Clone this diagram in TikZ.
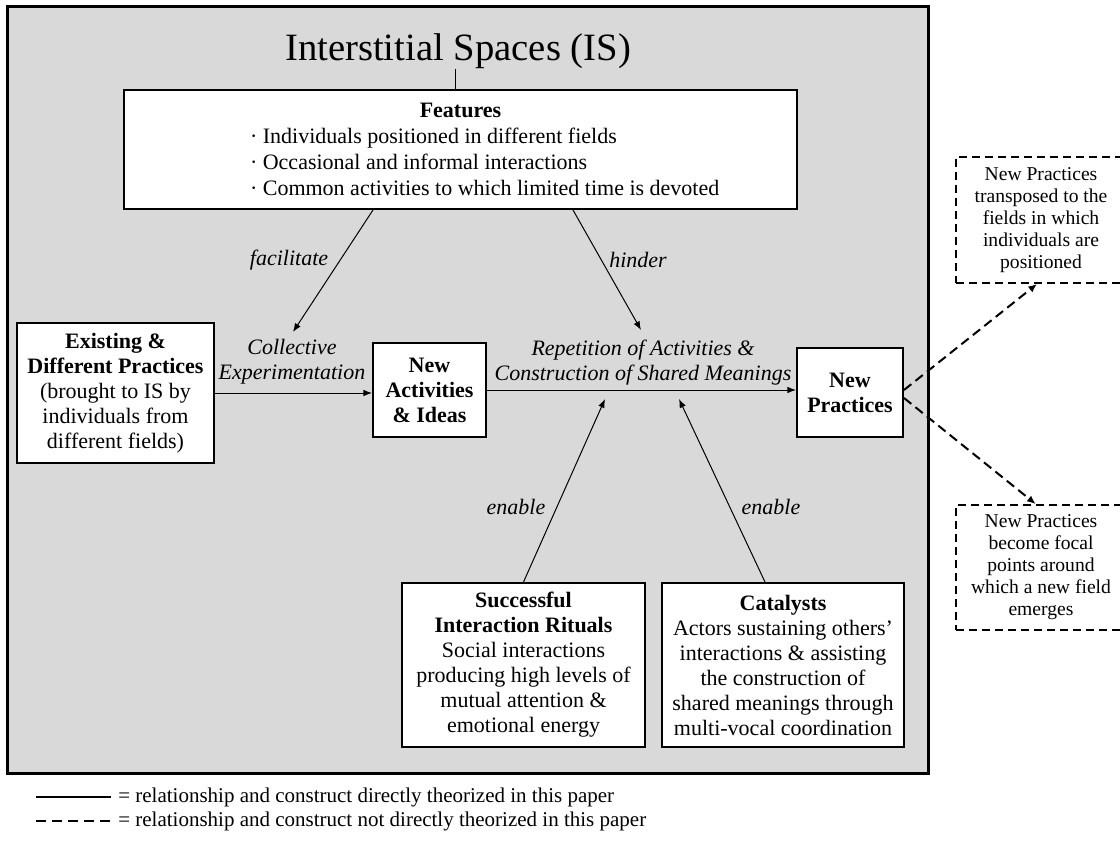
\documentclass[tikz,border=0pt]{standalone}
\usepackage{fontspec}
\setmainfont{Liberation Serif}
\usepackage{tikz}
\usetikzlibrary{arrows.meta}
\definecolor{isgray}{RGB}{217,217,217}
\newcommand{\featline}[1]{\makebox[315.75pt][l]{·~#1}}

\begin{document}
\begin{tikzpicture}[x=0.75pt,y=-0.75pt,
    box/.style={draw=black,line width=1.5pt,fill=white,align=center,inner sep=2pt,font=\fontsize{16.5}{18.75}\selectfont},
    dbox/.style={draw=black,line width=1.5pt,dash pattern=on 6pt off 3.75pt,fill=white,align=center,inner sep=2pt,font=\fontsize{14.7}{16.5}\selectfont},
    lbl/.style={align=center,inner sep=1pt,font=\fontsize{16.5}{18.75}\selectfont\itshape},
    arr/.style={line width=0.75pt,-{Latex[length=6.5pt,width=5pt]}},
    darr/.style={line width=1.5pt,dash pattern=on 7pt off 4pt,-{Latex[length=6.5pt,width=5.5pt]}},
    legtext/.style={anchor=west,inner sep=0pt,font=\fontsize{15.75}{18}\selectfont}]
    \useasboundingbox (0,0) rectangle (1120,841);

    % draw interstitial space
    \draw[line width=2.25pt,fill=isgray] (7,7) rectangle (928,773);
    \node[inner sep=0pt,font=\fontsize{29}{32}\selectfont] (title) at (458,51) {Interstitial Spaces (IS)};

    % draw boxes
    \node[box,minimum width=504.75pt,minimum height=89.25pt,font=\fontsize{16.5}{19.5}\selectfont] (features) at (460.5,149.5)
        {\textbf{Features}\\\featline{Individuals positioned in different fields}\\\featline{Occasional and informal interactions}\\\featline{Common activities to which limited time is devoted}};
    \node[box,minimum width=147.75pt,minimum height=105pt] (existing) at (115.5,393)
        {\textbf{Existing \&}\\\textbf{Different Practices}\\(brought to IS by\\individuals from\\different fields)};
    \node[box,minimum width=84.75pt,minimum height=70.5pt] (newact) at (429.5,390) {\textbf{New}\\\textbf{Activities}\\\textbf{\& Ideas}};
    \node[box,minimum width=79.5pt,minimum height=66.75pt] (newprac) at (850,392.5) {\textbf{New}\\\textbf{Practices}};
    \node[box,minimum width=182.25pt,minimum height=123pt] (rituals) at (523.5,665)
        {\textbf{Successful}\\\textbf{Interaction Rituals}\\Social interactions\\producing high levels of\\mutual attention \&\\emotional energy};
    \node[box,minimum width=181.5pt,minimum height=123pt] (catalysts) at (783,665)
        {\textbf{Catalysts}\\Actors sustaining others’\\interactions \& assisting\\the construction of\\shared meanings through\\multi-vocal coordination};

    % draw outside boxes
    \node[dbox,minimum width=127.5pt,minimum height=94.5pt] (transposed) at (1041,220)
        {New Practices\\transposed to the\\fields in which\\individuals are\\positioned};
    \node[dbox,minimum width=127.5pt,minimum height=93.75pt] (focal) at (1041,567.5)
        {New Practices\\become focal\\points around\\which a new field\\emerges};

    % draw labels
    \node[lbl] (facilitate) at (289,260) {facilitate};
    \node[lbl] (hinder) at (638,260) {hinder};
    \node[lbl] (collective) at (292,362) {Collective\\Experimentation};
    \node[lbl] (repetition) at (643,363) {Repetition of Activities \&\\Construction of Shared Meanings};
    \node[lbl] (enableA) at (516,507) {enable};
    \node[lbl] (enableB) at (771,507) {enable};

    % arrow ends
    \coordinate (facend) at (293,332);
    \coordinate (hinend) at (641,330);
    \coordinate (enaend) at (605,399);
    \coordinate (enbend) at (679,399);

    % draw connectors
    \draw[line width=0.75pt] ([xshift=-2.25pt]title.south) -- ([xshift=-2.25pt]title.south |- features.north);
    \draw[arr] (existing.east) -- (existing.east -| newact.west);
    \draw[arr] (newact.east) -- (newact.east -| newprac.west);
    \draw[arr] (features.south west) ++(250,0) -- (facend);
    \draw[arr] (features.south west) ++(450,0) -- (hinend);
    \draw[arr] (rituals.north) -- (enaend);
    \draw[arr] (catalysts.north west) ++(104,0) -- (enbend);
    \draw[darr] (newprac.east) ++(0,-2.5) -- ([xshift=-3pt]transposed.south);
    \draw[darr] (newprac.east) ++(0,5.5) -- ([xshift=-4pt]focal.north);

    % draw legend
    \coordinate (solidleg) at (36,797);
    \coordinate (dashleg) at (36,821);
    \node[legtext] (solidtxt) at (118,797) {= relationship and construct directly theorized in this paper};
    \node[legtext] (dashtxt) at (118,821) {= relationship and construct not directly theorized in this paper};
    \draw[line width=1.5pt] (solidleg) -- ([xshift=-5.25pt]solidtxt.west);
    \draw[line width=1.5pt,dash pattern=on 7.5pt off 4.5pt] (dashleg) -- ([xshift=-5.25pt]dashtxt.west);
\end{tikzpicture}
\end{document}
